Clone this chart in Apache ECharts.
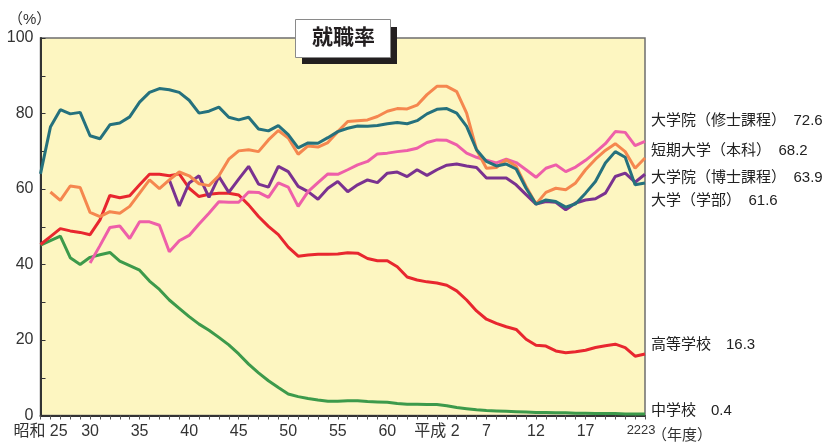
<!DOCTYPE html>
<html>
<head>
<meta charset="utf-8">
<script src="https://cdn.jsdelivr.net/npm/echarts@6/dist/echarts.min.js"></script>
<style>
  html, body { margin: 0; padding: 0; background: #fff; }
  #chart { width: 829px; height: 443px; }
</style>
</head>
<body>
<div id="chart"></div>
<script>
// 年度（昭和25〜平成23）
const years = [
  '昭和25','昭和26','昭和27','昭和28','昭和29','昭和30','昭和31','昭和32','昭和33','昭和34',
  '昭和35','昭和36','昭和37','昭和38','昭和39','昭和40','昭和41','昭和42','昭和43','昭和44',
  '昭和45','昭和46','昭和47','昭和48','昭和49','昭和50','昭和51','昭和52','昭和53','昭和54',
  '昭和55','昭和56','昭和57','昭和58','昭和59','昭和60','昭和61','昭和62','昭和63','平成元',
  '平成2','平成3','平成4','平成5','平成6','平成7','平成8','平成9','平成10','平成11',
  '平成12','平成13','平成14','平成15','平成16','平成17','平成18','平成19','平成20','平成21',
  '平成22','平成23'
];
// 目盛りに出す年度（22と23は詰めて一つに描く）
const tickLabels = {
  '昭和25': '昭和 25', '昭和30': '30', '昭和35': '35', '昭和40': '40', '昭和45': '45',
  '昭和50': '50', '昭和55': '55', '昭和60': '60', '平成2': '平成 2', '平成7': '7',
  '平成12': '12', '平成17': '17', '平成22': '22', '平成23': '23'
};

// 就職率（%）
const shushi = [null,null,null,null,null,40.4,45.0,49.8,50.2,46.9,
  51.3,51.3,50.4,43.4,46.3,47.7,50.7,53.6,56.6,56.5,
  56.5,59.2,59.1,57.8,61.6,60.5,55.4,59.3,61.7,64.0,
  63.9,65.1,66.4,67.3,69.3,69.5,69.9,70.2,70.8,72.3,
  73.0,72.9,71.7,69.5,68.4,67.6,66.9,67.9,67.0,65.1,
  63.1,65.5,66.4,64.6,65.8,67.6,69.7,72.0,75.2,75.0,
  71.5,72.6];
const tandai = [null,59.2,57.0,60.8,60.4,53.8,52.7,54.0,53.6,55.4,
  58.9,62.4,60.1,62.4,64.5,63.5,61.4,60.9,63.5,67.9,
  70.1,70.4,69.9,73.0,75.5,73.5,69.2,71.4,71.1,72.3,
  75.2,77.9,78.1,78.3,79.2,80.6,81.3,81.2,82.2,85.0,
  87.2,87.2,85.8,80.1,70.4,65.5,65.7,67.7,66.0,60.7,
  56.0,59.1,60.2,59.8,61.6,65.1,67.9,70.2,72.0,69.9,
  65.5,68.2];
const hakushi = [null,null,null,null,null,null,null,null,null,null,
  null,null,null,62.4,55.5,61.6,63.5,57.8,63.3,59.1,
  62.6,66.0,61.3,60.5,66.0,64.6,60.7,59.3,57.3,60.2,
  62.0,59.3,61.1,62.4,61.7,64.2,64.5,63.3,65.1,63.6,
  65.1,66.3,66.6,66.1,65.7,62.9,62.9,62.9,61.1,58.5,
  56.0,56.7,56.5,54.5,56.3,57.1,57.4,58.9,63.3,64.2,
  61.8,63.9];
const gakubu = [64.0,76.4,81.0,79.9,80.3,74.1,73.3,77.0,77.5,79.1,
  83.0,85.6,86.6,86.3,85.6,83.5,80.1,80.6,81.7,79.0,
  78.3,79.0,75.9,75.4,76.8,74.4,70.9,72.2,72.1,73.6,
  75.2,76.1,76.7,76.6,76.8,77.3,77.6,77.3,78.1,79.9,
  81.1,81.3,80.1,76.6,70.4,67.3,66.1,66.6,65.3,60.2,
  56.0,57.1,56.7,55.2,56.1,58.9,62.0,66.9,69.9,68.4,
  61.1,61.6];
const koukou = [45.3,47.4,49.5,48.9,48.5,47.9,51.8,58.3,57.7,58.2,
  61.1,63.9,63.9,63.5,64.0,60.2,58.0,58.6,58.9,58.9,
  58.4,55.8,52.7,50.1,47.9,44.6,42.2,42.5,42.7,42.7,
  42.8,43.1,43.0,41.6,41.0,41.0,39.4,36.7,35.9,35.4,
  35.1,34.5,33.0,30.6,27.7,25.5,24.4,23.5,22.8,20.2,
  18.6,18.4,17.1,16.6,16.9,17.3,18.0,18.5,18.9,18.0,
  15.7,16.3];
const chugaku = [45.1,46.3,47.5,41.8,40.0,41.9,42.6,43.2,40.9,39.7,
  38.5,35.6,33.4,30.6,28.4,26.2,24.2,22.6,20.7,18.7,
  16.3,13.6,11.3,9.2,7.4,5.7,5.0,4.5,4.1,3.8,
  3.8,3.9,3.9,3.7,3.6,3.5,3.2,3.0,3.0,2.9,
  2.9,2.6,2.1,1.8,1.5,1.3,1.2,1.1,1.0,0.9,
  0.8,0.8,0.7,0.7,0.6,0.6,0.5,0.5,0.5,0.4,
  0.4,0.4];

const FONT = '"Liberation Sans", "Noto Sans CJK JP", sans-serif';

// 線の名前・データ・色、右端ラベルの縦位置
const lines = [
  { name: '中学校', data: chugaku, color: '#3d9a4b', labelY: 412 },
  { name: '高等学校', data: koukou, color: '#e8272f', labelY: 346 },
  { name: '大学院（博士課程）', data: hakushi, color: '#7a3290', labelY: 179 },
  { name: '大学院（修士課程）', data: shushi, color: '#ee5fa9', labelY: 122 },
  { name: '短期大学（本科）', data: tandai, color: '#f5874f', labelY: 152 },
  { name: '大学（学部）', data: gakubu, color: '#25717d', labelY: 202 }
];

const chart = echarts.init(document.getElementById('chart'));

const endTexts = lines.map(function (l) {
  return {
    type: 'text',
    left: 651,
    top: l.labelY - 9,
    style: {
      text: l.name + '　' + l.data[l.data.length - 1].toFixed(1),
      font: '15px ' + FONT,
      fill: '#222'
    }
  };
});

chart.setOption({
  animation: false,
  grid: {
    left: 40.5,
    right: 184,
    top: 38,
    bottom: 27.5,
    show: true,
    backgroundColor: '#fdf6c1',
    borderColor: '#6e6e6e',
    borderWidth: 1.5
  },
  xAxis: {
    type: 'category',
    data: years,
    boundaryGap: false,
    axisLine: { lineStyle: { color: '#333', width: 2 } },
    axisTick: { show: true, interval: 0, length: 4, lineStyle: { color: '#555' } },
    axisLabel: {
      interval: function (idx, val) { return tickLabels[val] !== undefined && val !== '平成23'; },
      margin: 8,
      color: '#333',
      fontSize: 16,
      fontFamily: FONT,
      formatter: function (val) {
        if (val === '平成22') return '{a|' + tickLabels[val] + tickLabels['平成23'] + '}';
        return tickLabels[val];
      },
      rich: {
        a: { fontSize: 13, fontFamily: FONT, color: '#333', padding: [0, 0, 0, 12] }
      }
    },
    splitLine: { show: false }
  },
  yAxis: {
    type: 'value',
    min: 0,
    max: 100,
    interval: 10,
    axisLine: { show: true, lineStyle: { color: '#333', width: 2 } },
    axisTick: { show: true, inside: true, length: 5, lineStyle: { color: '#333' } },
    axisLabel: {
      margin: 7,
      color: '#333',
      fontSize: 16,
      fontFamily: FONT,
      formatter: function (v) { return v % 20 === 0 ? String(v) : ''; }
    },
    splitLine: { show: false }
  },
  series: lines.map(function (l) {
    return {
      name: l.name,
      type: 'line',
      data: l.data,
      showSymbol: false,
      symbol: 'none',
      lineStyle: { color: l.color, width: 3 },
      itemStyle: { color: l.color }
    };
  }),
  graphic: [
    // タイトル（影つきの箱）
    { type: 'rect', left: 302, top: 27, shape: { width: 95, height: 37 }, style: { fill: '#231f20' } },
    { type: 'rect', left: 295, top: 19, shape: { width: 95, height: 38 }, style: { fill: '#fff', stroke: '#8a8a8a', lineWidth: 1 } },
    { type: 'text', left: 312, top: 26, style: { text: '就職率', font: 'bold 21px "Noto Sans CJK JP"', fill: '#231f20' } },
    { type: 'text', left: 8, top: 12, style: { text: '（%）', font: '15px ' + FONT, fill: '#333' } },
    { type: 'text', left: 652, top: 428, style: { text: '（年度）', font: '15px ' + FONT, fill: '#333' } }
  ].concat(endTexts)
});
</script>
</body>
</html>
